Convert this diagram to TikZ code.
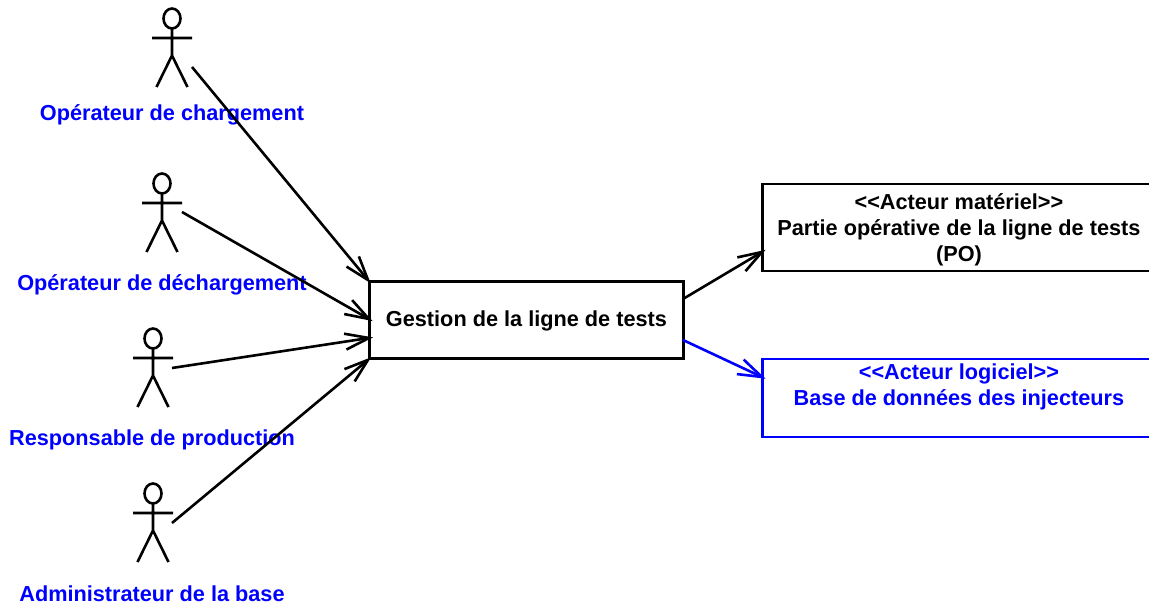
\documentclass[tikz,border=0pt]{standalone}
\usepackage{fontspec}
\setmainfont{Liberation Sans}
\usetikzlibrary{arrows.meta}
\definecolor{ublue}{RGB}{0,0,255}
\pgfdeclarearrow{
  name=OpenBarb,
  setup code={\pgfarrowssettipend{0pt}\pgfarrowssetlineend{-1pt}\pgfarrowssetbackend{-24pt}\pgfarrowssetvisualbackend{-24pt}\pgfarrowshullpoint{0pt}{0pt}\pgfarrowshullpoint{-24pt}{8pt}\pgfarrowshullpoint{-24pt}{-8pt}},
  drawing code={\pgfsetdash{}{0pt}\pgfsetmiterjoin\pgfsetbuttcap
    \pgfpathmoveto{\pgfqpoint{-24pt}{8pt}}\pgfpathlineto{\pgfqpoint{0pt}{0pt}}\pgfpathlineto{\pgfqpoint{-24pt}{-8pt}}\pgfusepathqstroke}
}
\newcommand{\tightwords}{\spaceskip=.278em \xspaceskip=.278em }
\tikzset{
  x=1pt,y=-1pt,
  lbl/.style={font=\fontsize{21.7}{26}\selectfont\bfseries,inner sep=0pt},
  actorlabel/.style={lbl,text=ublue,anchor=base},
  box/.style={lbl,draw,line width=2.9pt,align=center,anchor=north west,text width=390pt,minimum width=393pt},
  mainbox/.style={lbl,draw,line width=2.9pt,minimum width=314pt,minimum height=77pt,anchor=north west,align=center},
  link/.style={line width=2.6pt,-OpenBarb},
  actorstroke/.style={line width=2.6pt},
  pics/actor/.style={code={
    \draw[actorstroke] (0,0) ellipse [x radius=8.5pt,y radius=10pt];
    \draw[actorstroke] (0,10) -- (0,37) (-20,19.5) -- (20,19.5) (-15.5,68.5) -- (0,37) -- (15.5,68.5);
  }}
}
\begin{document}
\begin{tikzpicture}
\useasboundingbox (0,0) rectangle (1149,605);
\pic at (172,18.5) {actor};
\pic at (162,183.5) {actor};
\pic at (153,338.5) {actor};
\pic at (153,493.5) {actor};
\node[actorlabel] (a1) at (172,120.5) {Opérateur de chargement};
\node[actorlabel] (a2) at (162,290) {Opérateur de déchargement};
\node[actorlabel] (a3) at (152,445.5) {Responsable de production};
\node[actorlabel] (a4) at (152,601.5) {Administrateur de la base};
\node[mainbox] (main) at (368,280) {\rule{0pt}{18.5pt}Gestion de la ligne de tests};
\node[box,minimum height=87pt] (po) at (761,182.5) {\tightwords\rule{0pt}{20pt}<{}<Acteur matériel>{}>\\Partie opérative de la ligne de tests\\(PO)};
\node[box,draw=ublue,text=ublue,minimum height=78pt] (bd) at (761,357.5) {\tightwords <{}<Acteur logiciel>{}>\\Base de données des injecteurs\\\mbox{}};
\coordinate (s1) at (192,67);
\coordinate (s2) at (182,212);
\coordinate (s3) at (172,368);
\coordinate (s4) at (172,523);
\coordinate (t2) at (369,319);
\coordinate (t3) at (369,338);
\coordinate (o1) at (683,299);
\coordinate (o2) at (683,340);
\coordinate (e1) at (762,252);
\coordinate (e2) at (762,377);
\draw[link] (s1) -- (main.north west);
\draw[link] (s2) -- (t2);
\draw[link] (s3) -- (t3);
\draw[link] (s4) -- (main.south west);
\draw[link] (o1) -- (e1);
\draw[link,ublue] (o2) -- (e2);
\end{tikzpicture}
\end{document}
